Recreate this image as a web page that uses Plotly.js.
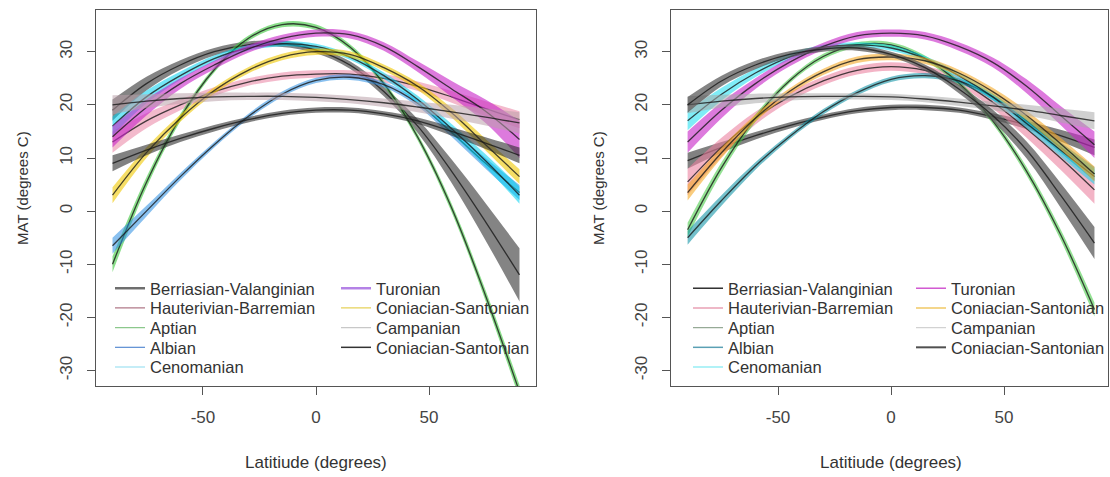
<!DOCTYPE html>
<html>
<head>
<meta charset="utf-8">
<script src="https://cdn.plot.ly/plotly-3.0.1.min.js"></script>
<style>html,body{margin:0;padding:0;background:#fff;}#chart{width:1110px;height:477px;}</style>
</head>
<body>
<div id="chart"></div>
<script>
// ---------- data ----------
const latitude = [-90, -75, -60, -45, -30, -15, 0, 15, 30, 45, 60, 75, 90];
const stageNames = ["Berriasian-Valanginian", "Hauterivian-Barremian", "Aptian", "Albian", "Cenomanian",
                    "Turonian", "Coniacian-Santonian", "Campanian", "Coniacian-Santonian"];
const xTickValues = [-50, 0, 50];
const xTickLabels = ["-50", "0", "50"];
const yTickValues = [-30, -20, -10, 0, 10, 20, 30];
const yTickLabels = ["-30", "-20", "-10", "0", "10", "20", "30"];

// Left panel: fitted MAT and band half-width
const leftBerriasian      = [19, 24, 27.5, 30, 31.3, 31.5, 30.3, 27.5, 22.5, 16, 7.5, -2, -12];
const leftBerriasianBand  = [2, 1.3, 0.9, 0.7, 0.6, 0.6, 0.6, 0.7, 0.9, 1.3, 2.2, 3.5, 5];
const leftHauterivian     = [13, 17, 20, 22.5, 24.3, 25.4, 25.8, 25.8, 25, 23.5, 21.5, 19.3, 17.2];
const leftHauterivianBand = [2, 1.4, 1, 0.8, 0.7, 0.7, 0.7, 0.7, 0.8, 0.9, 1.1, 1.4, 1.6];
const leftAptian          = [-10, 5.4, 17.6, 26.6, 32.5, 35.1, 34.6, 30.9, 24, 13.9, 0.6, -15.9, -34];
const leftAptianBand      = [1.5, 1, 0.7, 0.5, 0.5, 0.5, 0.5, 0.5, 0.5, 0.6, 0.8, 1, 1.3];
const leftAlbian          = [-6.5, 0, 6.5, 12.5, 17.8, 22, 24.6, 25.2, 23.8, 20.3, 14.8, 9, 3.5];
const leftAlbianBand      = [1.5, 1, 0.7, 0.5, 0.5, 0.5, 0.5, 0.5, 0.5, 0.6, 0.8, 1, 1.4];
const leftCenomanian      = [16, 21.5, 25.5, 28.7, 30.7, 31.5, 31, 29, 25.5, 21, 15.5, 9.5, 3];
const leftCenomanianBand  = [1.8, 1.2, 0.8, 0.6, 0.5, 0.5, 0.5, 0.5, 0.6, 0.7, 0.9, 1.2, 1.6];
const leftTuronian        = [14, 19.5, 24, 27.5, 30.5, 32.5, 33.5, 33.2, 31, 27.2, 23, 18.8, 13.5];
const leftTuronianBand    = [2, 1.5, 1, 0.8, 0.7, 0.7, 0.7, 0.7, 0.8, 1, 1.5, 2.2, 3.5];
const leftConiacian       = [3, 11, 17.5, 22.7, 26.5, 29, 30, 29.5, 27, 23.5, 18.5, 12.5, 6.5];
const leftConiacianBand   = [1.5, 1, 0.7, 0.6, 0.6, 0.6, 0.6, 0.6, 0.6, 0.7, 0.9, 1.1, 1.4];
const leftCampanian       = [20, 20.7, 21.2, 21.5, 21.6, 21.6, 21.4, 21, 20.4, 19.6, 18.7, 17.7, 16.6];
const leftCampanianBand   = [1.8, 1.3, 1, 0.8, 0.7, 0.7, 0.7, 0.7, 0.8, 1, 1.3, 1.6, 2];
const leftConiacian2      = [9, 11.5, 13.7, 15.6, 17.2, 18.4, 19, 19, 18.3, 17, 15, 12.8, 10.5];
const leftConiacian2Band  = [1.5, 1, 0.7, 0.6, 0.5, 0.5, 0.5, 0.5, 0.5, 0.6, 0.8, 1.1, 1.5];

// Right panel: fitted MAT and band half-width
const rightBerriasian      = [9.5, 12, 14.2, 16.1, 17.7, 18.9, 19.5, 19.5, 19, 17.8, 16.2, 14.2, 12];
const rightBerriasianBand  = [1.5, 1, 0.7, 0.6, 0.5, 0.5, 0.5, 0.5, 0.5, 0.6, 0.8, 1.1, 1.5];
const rightHauterivian     = [5.5, 12, 17.5, 21.5, 24.5, 26.5, 27.2, 26.5, 24.5, 20.5, 15.5, 10, 4];
const rightHauterivianBand = [2.5, 1.8, 1.2, 0.9, 0.8, 0.8, 0.8, 0.8, 0.9, 1.2, 1.7, 2.2, 2.6];
const rightAptian          = [-3.5, 8.2, 17.5, 24.5, 29.1, 31.3, 31.3, 28.8, 24.1, 17, 7.5, -4.4, -18.5];
const rightAptianBand      = [1.3, 1, 0.7, 0.5, 0.5, 0.5, 0.5, 0.5, 0.5, 0.6, 0.8, 1, 1.3];
const rightAlbian          = [-5, 2, 8.5, 14, 18.7, 22.3, 24.8, 25.5, 24.5, 21.5, 17, 12, 7];
const rightAlbianBand      = [1.3, 1, 0.7, 0.5, 0.5, 0.5, 0.5, 0.5, 0.5, 0.6, 0.8, 1, 1.3];
const rightCenomanian      = [17, 22, 26, 29, 30.8, 31.3, 30.7, 28.7, 25.5, 21.5, 16.5, 11.5, 6.5];
const rightCenomanianBand  = [1.8, 1.2, 0.8, 0.6, 0.5, 0.5, 0.5, 0.5, 0.6, 0.7, 0.9, 1.2, 1.5];
const rightTuronian        = [13, 19, 24, 28, 31, 33, 33.5, 33, 31, 28, 23.5, 18, 12.5];
const rightTuronianBand    = [2, 1.5, 1, 0.8, 0.7, 0.7, 0.7, 0.7, 0.8, 0.9, 1.3, 1.8, 2.5];
const rightConiacian       = [3.5, 11, 17.5, 22.5, 26.2, 28.5, 29, 28.3, 26, 22.5, 18, 12.7, 7];
const rightConiacianBand   = [1.5, 1, 0.7, 0.6, 0.6, 0.6, 0.6, 0.6, 0.6, 0.7, 0.9, 1.1, 1.4];
const rightCampanian       = [20, 20.7, 21.2, 21.5, 21.6, 21.6, 21.5, 21.1, 20.5, 19.8, 19, 18, 17];
const rightCampanianBand   = [1.6, 1.2, 0.9, 0.7, 0.6, 0.6, 0.6, 0.6, 0.7, 0.8, 1, 1.3, 1.6];
const rightConiacian2      = [20, 24.5, 27.5, 29.5, 30.5, 30.7, 29.5, 27, 23, 18, 11.5, 3, -6];
const rightConiacian2Band  = [1.5, 1, 0.8, 0.6, 0.5, 0.5, 0.5, 0.6, 0.8, 1.1, 1.6, 2.3, 3];

// ---------- styles ----------
const leftFill  = ["rgba(85,85,85,0.72)", "rgba(235,140,170,0.6)", "rgba(60,200,60,0.6)", "rgba(40,140,225,0.55)",
                   "rgba(0,210,240,0.55)", "rgba(200,40,200,0.62)", "rgba(240,200,0,0.6)", "rgba(185,160,170,0.55)", "rgba(45,45,45,0.6)"];
const leftLegendColor = ["#6e6e6e", "#b07888", "#8cc88c", "#5a8cd2", "#8cdcf0", "#b482e6", "#e6d25a", "#c8c8c8", "#333333"];
const leftLegendWidth = [2.5, 1.2, 1.2, 1.2, 1.2, 2.5, 1.2, 1.2, 1.5];
const rightFill = ["rgba(45,45,45,0.6)", "rgba(235,130,160,0.6)", "rgba(60,200,60,0.55)", "rgba(0,140,160,0.55)",
                   "rgba(0,220,240,0.5)", "rgba(200,40,200,0.62)", "rgba(245,170,40,0.6)", "rgba(170,170,170,0.55)", "rgba(85,85,85,0.72)"];
const rightLegendColor = ["#333333", "#e8a0b4", "#96aa96", "#5aa0b4", "#64e6f0", "#d25ad2", "#f0c864", "#d2d2d2", "#505050"];
const rightLegendWidth = [1.5, 1.5, 1.2, 1.5, 1.2, 1.5, 1.5, 1.2, 2];

const leftFits  = [leftBerriasian, leftHauterivian, leftAptian, leftAlbian, leftCenomanian, leftTuronian, leftConiacian, leftCampanian, leftConiacian2];
const leftBands = [leftBerriasianBand, leftHauterivianBand, leftAptianBand, leftAlbianBand, leftCenomanianBand, leftTuronianBand, leftConiacianBand, leftCampanianBand, leftConiacian2Band];
const rightFits  = [rightBerriasian, rightHauterivian, rightAptian, rightAlbian, rightCenomanian, rightTuronian, rightConiacian, rightCampanian, rightConiacian2];
const rightBands = [rightBerriasianBand, rightHauterivianBand, rightAptianBand, rightAlbianBand, rightCenomanianBand, rightTuronianBand, rightConiacianBand, rightCampanianBand, rightConiacian2Band];

const FONT = "Liberation Sans, Arial, sans-serif";
const W = 1110, H = 477;
const px = v => v / W, py = v => 1 - v / H;
const traces = [];

function addPanel(fits, bands, fills, xa, ya) {
  fits.forEach((fit, i) => {
    const band = bands[i];
    traces.push({x: latitude, y: fit.map((v, j) => v - band[j]), xaxis: xa, yaxis: ya, mode: "lines",
      line: {width: 0, shape: "spline", smoothing: 1}, showlegend: false, hoverinfo: "skip"});
    traces.push({x: latitude, y: fit.map((v, j) => v + band[j]), xaxis: xa, yaxis: ya, mode: "lines",
      line: {width: 0, shape: "spline", smoothing: 1}, fill: "tonexty", fillcolor: fills[i], showlegend: false, hoverinfo: "skip"});
    traces.push({x: latitude, y: fit, xaxis: xa, yaxis: ya, mode: "lines",
      line: {width: 1.3, color: "rgba(25,25,25,0.8)", shape: "spline", smoothing: 1}, showlegend: false, name: stageNames[i]});
  });
}
addPanel(leftFits, leftBands, leftFill, "x", "y");
addPanel(rightFits, rightBands, rightFill, "x2", "y2");

// one legend per row so that rows match the reference spacing
const legendLayouts = {};
const colX = [[110, 336], [688, 911]];
function addLegend(panel, colors, widths, xa, ya) {
  stageNames.forEach((nm, i) => {
    const idx = panel * 9 + i + 1;
    const id = idx === 1 ? "legend" : "legend" + idx;
    const col = i < 5 ? 0 : 1, row = i < 5 ? i : i - 5;
    const center = 288 + row * 19.7;
    legendLayouts[id] = {x: px(colX[panel][col]), y: py(center - 17), xanchor: "left", yanchor: "top",
      bgcolor: "rgba(0,0,0,0)", borderwidth: 0, traceorder: "normal", itemwidth: 30,
      font: {family: FONT, size: 16.5, color: "#333"}};
    traces.push({x: [null], y: [null], xaxis: xa, yaxis: ya, mode: "lines", name: nm,
      line: {color: colors[i], width: widths[i]}, showlegend: true, legend: id, hoverinfo: "skip"});
  });
}
addLegend(0, leftLegendColor, leftLegendWidth, "x", "y");
addLegend(1, rightLegendColor, rightLegendWidth, "x2", "y2");

function xAxis(domain, range, anchor) {
  return {domain: domain, range: range, anchor: anchor, tickvals: xTickValues, ticktext: xTickLabels,
    showline: true, mirror: true, linecolor: "#555", linewidth: 1, ticks: "outside", ticklen: 8, tickcolor: "#555",
    showgrid: false, zeroline: false, tickfont: {family: FONT, size: 17, color: "#444"}, ticklabelstandoff: 8, fixedrange: true};
}
function yAxis(domain, range, anchor) {
  return {domain: domain, range: range, anchor: anchor, tickvals: yTickValues, ticktext: yTickLabels, tickangle: -90,
    showline: true, mirror: true, linecolor: "#555", linewidth: 1, ticks: "outside", ticklen: 8, tickcolor: "#555",
    showgrid: false, zeroline: false, tickfont: {family: FONT, size: 17, color: "#444"}, ticklabelstandoff: 8, fixedrange: true};
}

const yDom = [1 - 386 / H, 1 - 10 / H];
const layout = Object.assign({
  width: W, height: H, margin: {l: 0, r: 0, t: 0, b: 0}, paper_bgcolor: "#fff", plot_bgcolor: "#fff",
  showlegend: true,
  xaxis: xAxis([px(96), px(536)], [-97.3, 97.3], "y"),
  yaxis: yAxis(yDom, [-32.9, 37.85], "x"),
  xaxis2: xAxis([px(671), px(1108)], [-97.35, 96.0], "y2"),
  yaxis2: yAxis(yDom, [-32.9, 37.85], "x2"),
  annotations: [
    {text: "Latitiude (degrees)", x: px(316), y: py(462), xref: "paper", yref: "paper", showarrow: false,
     xanchor: "center", yanchor: "middle", font: {family: FONT, size: 17, color: "#333"}},
    {text: "Latitiude (degrees)", x: px(891), y: py(462), xref: "paper", yref: "paper", showarrow: false,
     xanchor: "center", yanchor: "middle", font: {family: FONT, size: 17, color: "#333"}},
    {text: "MAT (degrees C)", x: px(22), y: py(188), xref: "paper", yref: "paper", showarrow: false, textangle: -90,
     xanchor: "center", yanchor: "middle", font: {family: FONT, size: 15, color: "#333"}},
    {text: "MAT (degrees C)", x: px(598), y: py(188), xref: "paper", yref: "paper", showarrow: false, textangle: -90,
     xanchor: "center", yanchor: "middle", font: {family: FONT, size: 15, color: "#333"}}
  ]
}, legendLayouts);

Plotly.newPlot("chart", traces, layout, {displayModeBar: false, staticPlot: true});
</script>
</body>
</html>
